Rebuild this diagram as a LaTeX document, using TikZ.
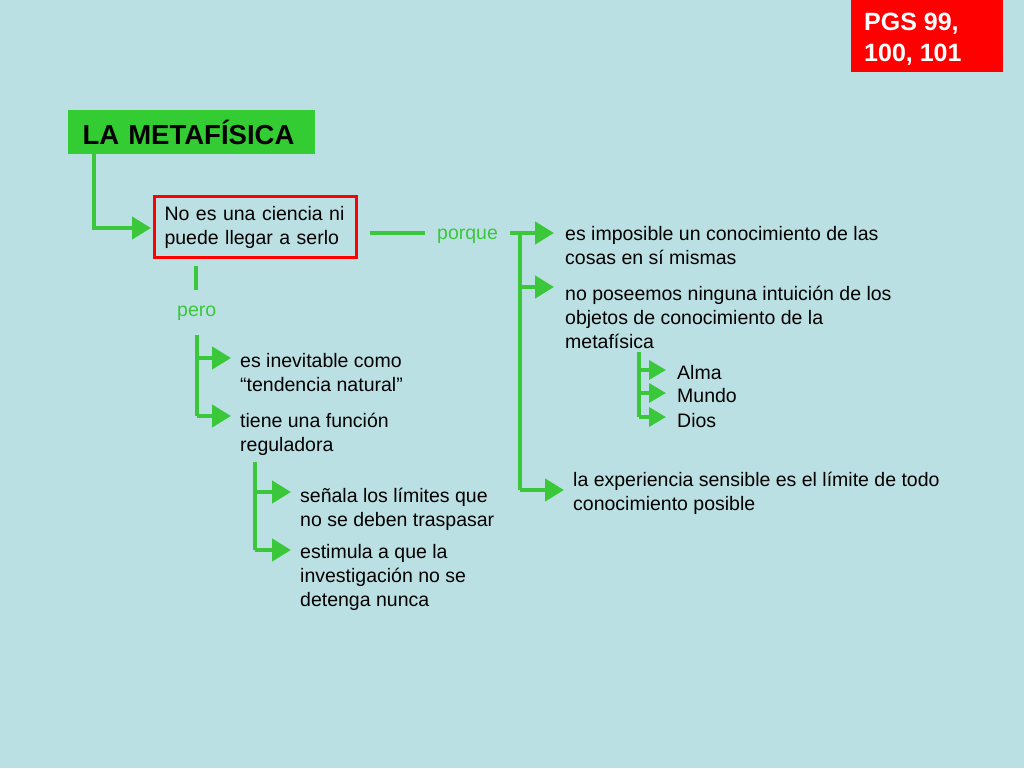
\documentclass[tikz,border=0pt]{standalone}
\usepackage{fontspec}
\setmainfont{Liberation Sans}
\usetikzlibrary{arrows.meta}
\definecolor{bg}{RGB}{187,224,227}
\definecolor{gr}{RGB}{58,200,58}
\definecolor{titlegr}{RGB}{51,204,51}
\definecolor{rd}{RGB}{255,0,0}
\begin{document}
\begin{tikzpicture}[x=1pt,y=-1pt,
  conn/.style={draw=gr,line width=4.5pt},
  arr/.style={conn,-{Triangle[length=19pt,width=22pt]}},
  txt/.style={anchor=west,align=left,inner sep=0pt,font=\fontsize{19.5}{24}\selectfont},
  gtxt/.style={txt,text=gr},
]
\fill[bg] (0,0) rectangle (1024,768);
\useasboundingbox (0,0) rectangle (1024,768);

% PGS box
\node[fill=rd,minimum width=152pt,minimum height=72pt,inner sep=0pt] (pgs) at (927,36) {};
\node[anchor=west,inner sep=0pt,text=white,
  font=\bfseries\fontsize{25}{31}\selectfont,align=left]
  (pgstext) at (864,39) {PGS 99,\\100, 101};

% title
\node[fill=titlegr,minimum width=247pt,minimum height=44pt,inner xsep=14.5pt,inner ysep=0pt,
  font=\bfseries\fontsize{27.5}{30}\selectfont,text width=218pt,align=left]
  (title) at (191.5,132) {LA METAFÍSICA};

% red box
\node[draw=rd,line width=3pt,minimum height=61pt,text width=182pt,inner xsep=10pt,inner ysep=0pt,
  align=left,font=\fontsize{19.5}{24}\selectfont]
  (nociencia) at (255.5,227) {No es una ciencia ni\\puede llegar a serlo};

% labels
\node[gtxt] (porque) at (437,236) {porque};
\node[gtxt] (pero) at (177,313) {pero};

% right texts
\node[txt] (r1) at (565,246) {es imposible un conocimiento de las\\cosas en sí mismas};
\node[txt] (r2) at (565,317) {no poseemos ninguna intuición de los\\objetos de conocimiento de la\\metafísica};
\node[txt] (alma) at (677,373) {Alma};
\node[txt] (mundo) at (677,396) {Mundo};
\node[txt] (dios) at (677,421) {Dios};
\node[txt] (r3) at (573,493) {la experiencia sensible es el límite de todo\\conocimiento posible};

% left texts
\node[txt] (p1) at (240,373) {es inevitable como\\“tendencia natural”};
\node[txt] (p2) at (240,434) {tiene una función\\reguladora};
\node[txt] (s1) at (300,509) {señala los límites que\\no se deben traspasar};
\node[txt] (s2) at (300,577) {estimula a que la\\investigación no se\\detenga nunca};

% title -> box
\coordinate (t0) at (94,154);
\draw[arr] (t0) |- ([xshift=-2pt,yshift=-1pt]nociencia.west);

% box -> porque
\draw[conn] ([xshift=12pt,yshift=-6pt]nociencia.east) -- ([xshift=-12pt,yshift=3pt]porque.west);
\coordinate (pj0) at (510,233);
\coordinate (pj) at (520,233);
\coordinate (pj2) at (520,287);
\coordinate (pj3) at (520,490);
\draw[conn] (pj0) -- (pj);
\draw[conn] (pj) -- (pj3);
\draw[arr] (pj) -- ([xshift=-11pt]r1.west |- pj);
\draw[arr] (pj2) -- ([xshift=-11pt]r2.west |- pj2);
\draw[arr] (pj3) -- ([xshift=-9pt]r3.west |- pj3);

% metafisica branch
\coordinate (m0) at (639,352);
\coordinate (m1) at (639,370);
\coordinate (m2) at (639,393);
\coordinate (m3) at (639,417);
\draw[conn,line width=3.5pt] (m0) -- (m3);
\draw[arr,line width=3.5pt,-{Triangle[length=17pt,width=19pt]}] (m1) -- ([xshift=-11pt]alma.west |- m1);
\draw[arr,line width=3.5pt,-{Triangle[length=17pt,width=19pt]}] (m2) -- ([xshift=-11pt]mundo.west |- m2);
\draw[arr,line width=3.5pt,-{Triangle[length=17pt,width=19pt]}] (m3) -- ([xshift=-11pt]dios.west |- m3);

% pero branch
\coordinate (c1) at (196,266);
\coordinate (c2) at (196,290);
\draw[conn] (c1) -- (c2);
\coordinate (v0) at (197,335);
\coordinate (v1) at (197,358);
\coordinate (v2) at (197,416);
\draw[conn] (v0) -- (v2);
\draw[arr] (v1) -- ([xshift=-9pt]p1.west |- v1);
\draw[arr] (v2) -- ([xshift=-9pt]p2.west |- v2);

% reguladora branch
\coordinate (w0) at (255,462);
\coordinate (w1) at (255,492);
\coordinate (w2) at (255,550);
\draw[conn] (w0) -- (w2);
\draw[arr] (w1) -- ([xshift=-9pt]s1.west |- w1);
\draw[arr] (w2) -- ([xshift=-9pt]s2.west |- w2);
\end{tikzpicture}
\end{document}
